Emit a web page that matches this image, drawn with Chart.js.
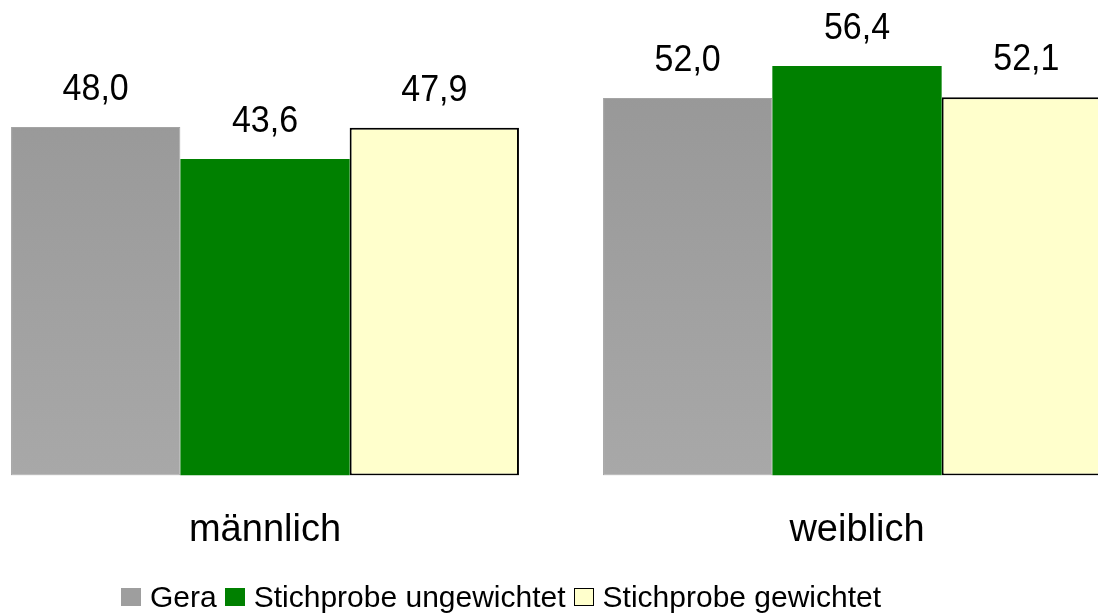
<!DOCTYPE html>
<html lang="de">
<head>
<meta charset="utf-8">
<title>Geschlecht – Gera vs. Stichprobe</title>
<script src="https://cdn.jsdelivr.net/npm/chart.js@4/dist/chart.umd.min.js"></script>
<style>
  html, body { margin: 0; padding: 0; background: #fff; overflow: hidden; }
  body { width: 1098px; height: 615px; position: relative; font-family: "Liberation Sans", Arial, sans-serif; }
  #wrap { position: absolute; left: -31px; top: 0; width: 1184px; height: 615px; }
  #legend {
    position: absolute; left: 121px; top: 582px;
    display: flex; align-items: center; font-size: 30px; color: #000;
    white-space: nowrap; line-height: 30px;
  }
  #legend .item { display: flex; align-items: center; margin-right: 8px; }
  #legend .box { width: 20px; height: 18px; margin-right: 9px; box-sizing: border-box; }
</style>
</head>
<body>
<div id="wrap"><canvas id="chart" width="1184" height="615"></canvas></div>
<div id="legend"></div>
<script>
"use strict";

const categories = ["männlich", "weiblich"];
const seriesNames = ["Gera", "Stichprobe ungewichtet", "Stichprobe gewichtet"];
const gera = [48.0, 52.0];
const ungewichtet = [43.6, 56.4];
const gewichtet = [47.9, 52.1];

const fmt = (v) => v.toFixed(1).replace(".", ",");

function grayFill(ctx) {
  const area = ctx.chart.chartArea;
  if (!area) return "#9e9e9e";
  const g = ctx.chart.ctx.createLinearGradient(0, area.top, 0, area.bottom);
  g.addColorStop(0, "#969696");
  g.addColorStop(1, "#a8a8a8");
  return g;
}

// Werte über den Balken
const valueLabels = {
  id: "valueLabels",
  afterDatasetsDraw(chart) {
    const c = chart.ctx;
    c.save();
    c.fillStyle = "#000";
    c.font = '34px "Liberation Sans", Arial, sans-serif';
    c.textAlign = "center";
    c.textBaseline = "alphabetic";
    chart.data.datasets.forEach((ds, i) => {
      chart.getDatasetMeta(i).data.forEach((bar, j) => {
        c.save();
        c.translate(bar.x, bar.y - 27);
        c.scale(1, 1.1);
        c.fillText(fmt(ds.data[j]), 0, 0);
        c.restore();
      });
    });
    c.restore();
  },
};

const styles = [
  { backgroundColor: grayFill, borderColor: "#a4a4a4", borderWidth: 1 },
  { backgroundColor: "#008000", borderColor: "#008000", borderWidth: 0 },
  { backgroundColor: "#ffffcc", borderColor: "#000000", borderWidth: 2 },
];
const values = [gera, ungewichtet, gewichtet];

new Chart(document.getElementById("chart"), {
  type: "bar",
  data: {
    labels: categories,
    datasets: seriesNames.map((name, i) => ({
      label: name,
      data: values[i],
      ...styles[i],
      borderSkipped: false,
      categoryPercentage: 0.858,
      barPercentage: 1.0,
    })),
  },
  options: {
    responsive: false,
    animation: false,
    layout: { padding: { top: 40, bottom: 30, left: 0, right: 0 } },
    scales: {
      x: {
        grid: { display: false, drawTicks: false },
        border: { display: false },
        ticks: {
          color: "#000",
          padding: 32,
          font: { family: '"Liberation Sans", Arial, sans-serif', size: 38 },
        },
      },
      y: { display: false, min: 0, max: 60 },
    },
    plugins: { legend: { display: false }, tooltip: { enabled: false } },
  },
  plugins: [valueLabels],
});

// Legende
const legendBoxes = [
  "background:#9e9e9e;",
  "background:#008000;",
  "background:#ffffcc;border:1.5px solid #000;",
];
const legend = document.getElementById("legend");
seriesNames.forEach((name, i) => {
  const item = document.createElement("span");
  item.className = "item";
  item.innerHTML = `<span class="box" style="${legendBoxes[i]}"></span><span>${name}</span>`;
  legend.appendChild(item);
});
</script>
</body>
</html>
